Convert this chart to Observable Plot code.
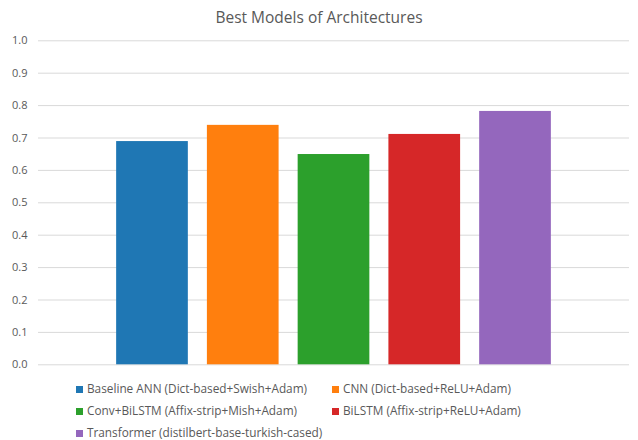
<!DOCTYPE html>
<html>
<head>
<meta charset="utf-8">
<script src="https://cdn.jsdelivr.net/npm/d3@7"></script>
<script src="https://cdn.jsdelivr.net/npm/@observablehq/plot@0.6"></script>
<style>
  html, body { margin: 0; padding: 0; background: #fff; }
  #wrap { position: relative; width: 638px; height: 440px; font-family: "Open Sans", "Liberation Sans", sans-serif; color: #595959; }
  #title { position: absolute; left: 0; top: 0; width: 638px; height: 34px; line-height: 34px; text-align: center; font-size: 15.5px; color: #595959; z-index: 2; }
  #chart { position: absolute; left: 0; top: 24px; }
  #legend { position: absolute; left: 0; top: 0; width: 638px; height: 440px; pointer-events: none; }
  .item { position: absolute; font-size: 11.8px; line-height: 16px; white-space: nowrap; color: #595959; }
  .sw { display: inline-block; width: 7px; height: 7px; margin-right: 4px; vertical-align: 0px; }
</style>
</head>
<body>
<div id="wrap">
  <div id="chart"></div>
  <div id="title">Best Models of Architectures</div>
  <div id="legend"></div>
</div>
<script>
const models = [
  "Baseline ANN (Dict-based+Swish+Adam)",
  "CNN (Dict-based+ReLU+Adam)",
  "Conv+BiLSTM (Affix-strip+Mish+Adam)",
  "BiLSTM (Affix-strip+ReLU+Adam)",
  "Transformer (distilbert-base-turkish-cased)"
];
const scores = [0.689, 0.739, 0.649, 0.711, 0.782];
const colors = ["#1f77b4", "#ff7f0e", "#2ca02c", "#d62728", "#9467bd"];
const yTicks = [0.0, 0.1, 0.2, 0.3, 0.4, 0.5, 0.6, 0.7, 0.8, 0.9, 1.0];

const data = models.map((m, i) => ({model: m, score: scores[i]}));

const chart = Plot.plot({
  width: 638,
  height: 351,
  marginLeft: 38,
  marginRight: 9,
  marginTop: 16.3,
  marginBottom: 10.7,
  style: {fontFamily: "'Open Sans', 'Liberation Sans', sans-serif", fontSize: "11px", color: "#595959", background: "transparent"},
  x: {domain: models, axis: null, paddingInner: 0.21, paddingOuter: 0.861, round: false},
  y: {domain: [0, 1], ticks: yTicks, tickFormat: d3.format(".1f"), tickSize: 0, tickPadding: 11, label: null},
  color: {domain: models, range: colors},
  marks: [
    Plot.ruleY(yTicks, {stroke: "#d9d9d9", strokeWidth: 1}),
    Plot.barY(data, {x: "model", y: "score", fill: "model"}),
    Plot.axisY({ticks: yTicks, tickFormat: d3.format(".1f"), tickSize: 0, tickPadding: 11, label: null, fill: "#595959"})
  ]
});
document.getElementById("chart").appendChild(chart);

const legend = document.getElementById("legend");
const colX = [76, 332];
const rowY = [380, 402, 424];
models.forEach((m, i) => {
  const d = document.createElement("div");
  d.className = "item";
  d.style.left = colX[i % 2] + "px";
  d.style.top = rowY[Math.floor(i / 2)] + "px";
  d.innerHTML = `<span class="sw" style="background:${colors[i]}"></span>${m}`;
  legend.appendChild(d);
});
</script>
</body>
</html>
